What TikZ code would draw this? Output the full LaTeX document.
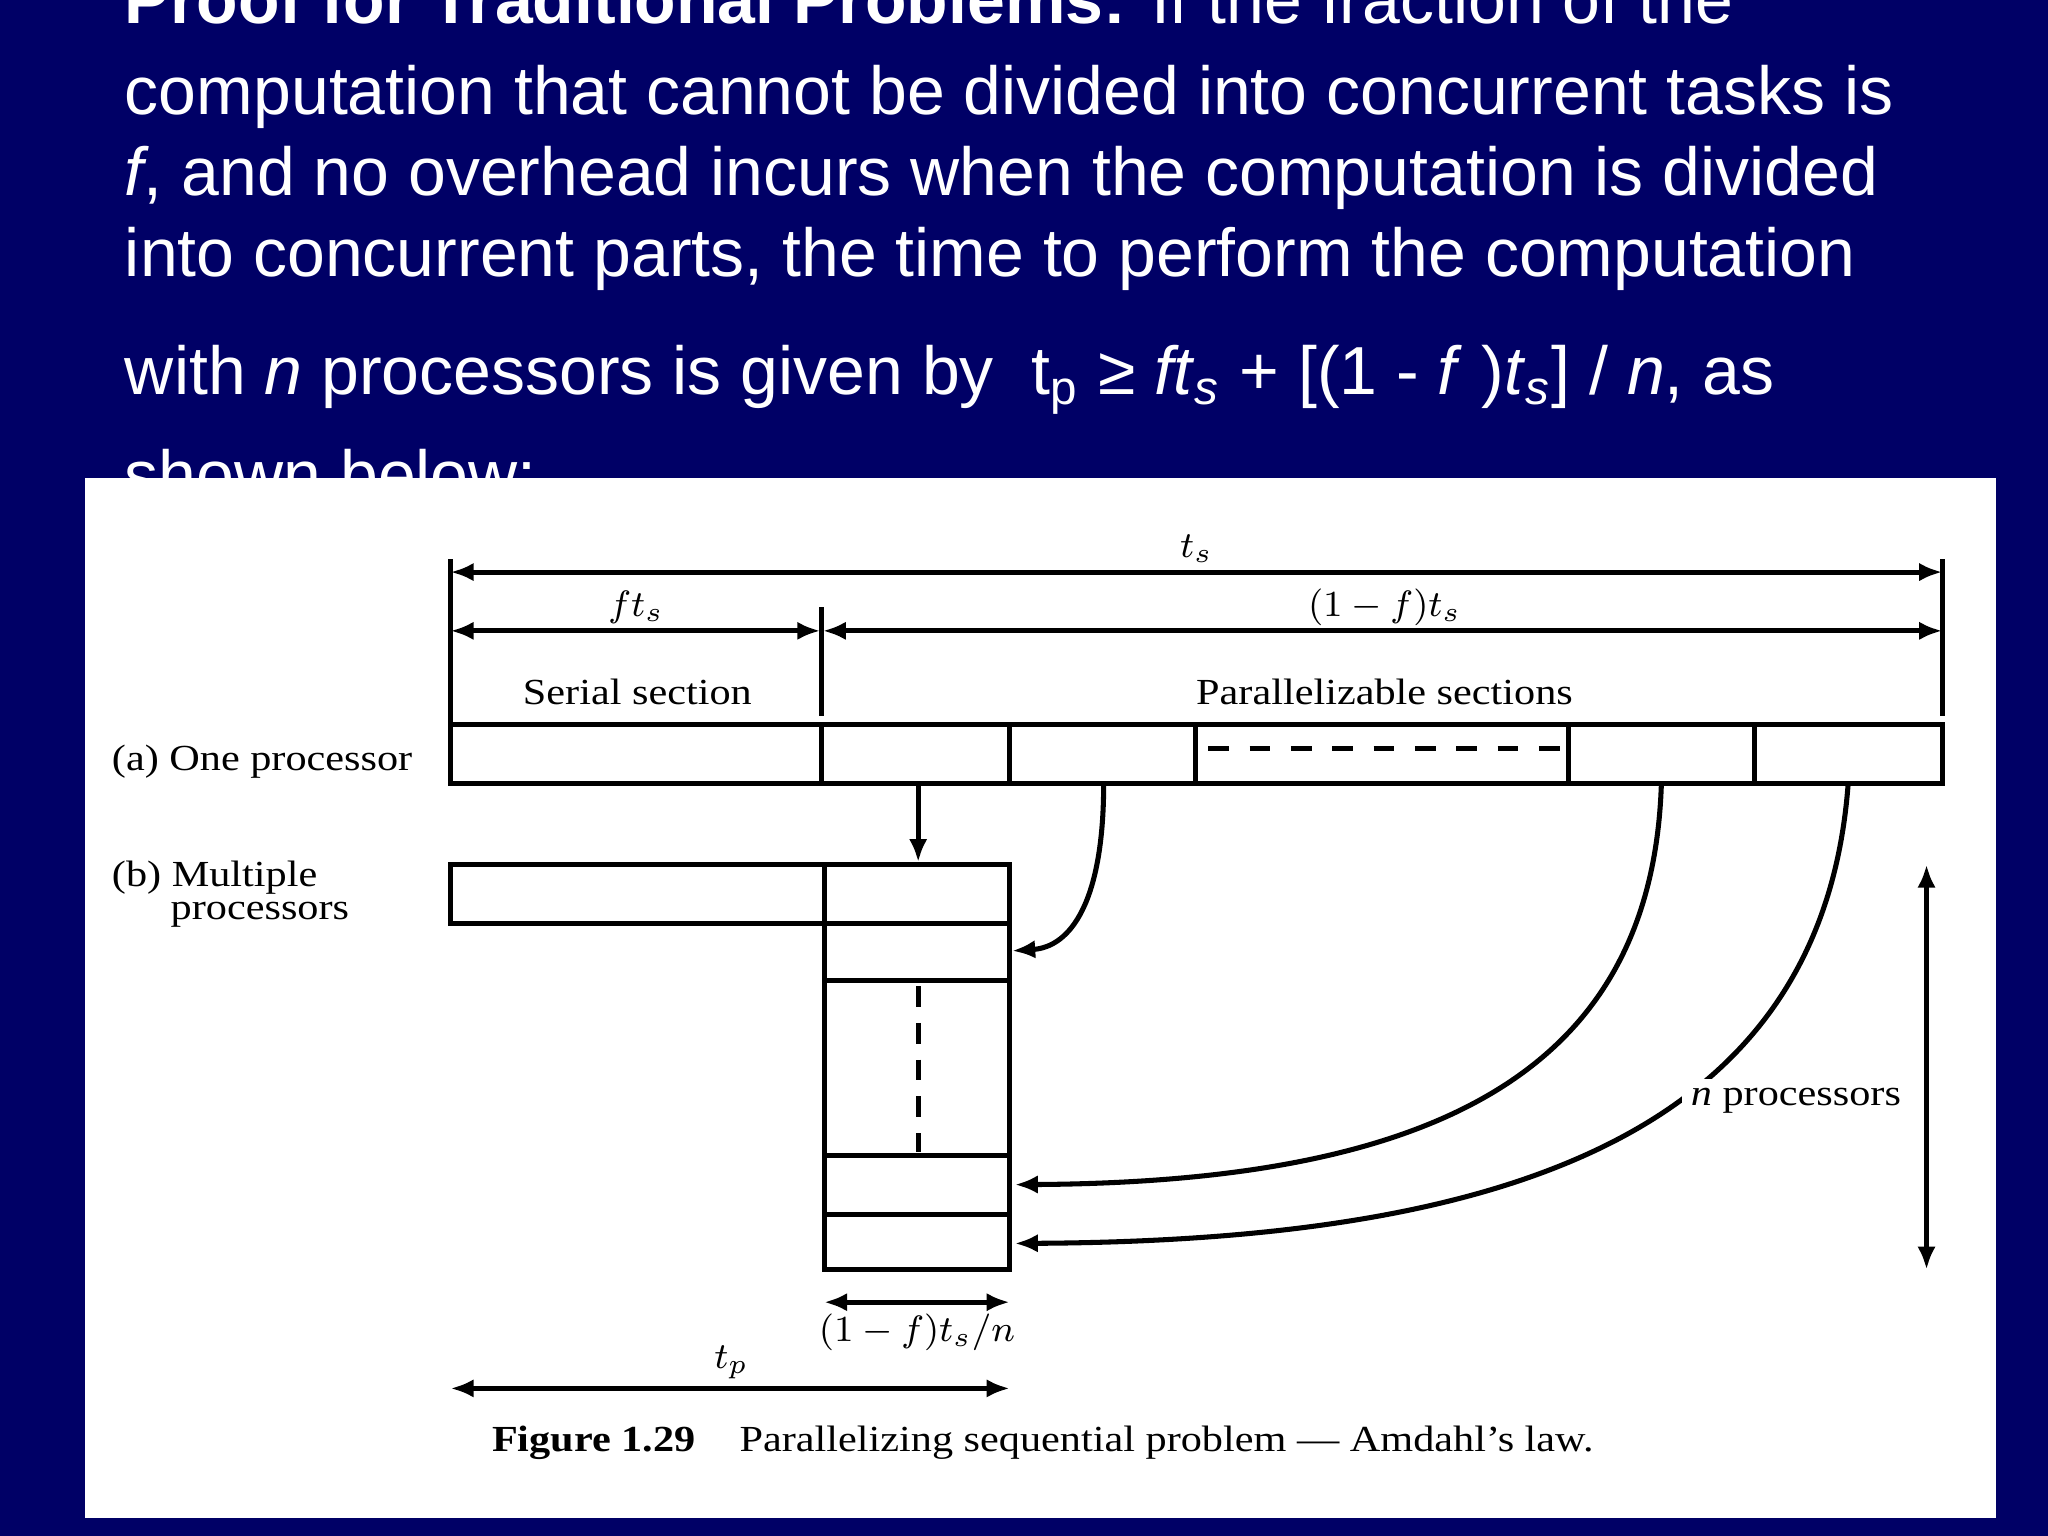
\documentclass[tikz,border=0pt]{standalone}
\usepackage{fontspec}
\setmainfont{Liberation Serif}[FakeStretch=1.15]
\newfontfamily\arial{Liberation Sans}
\usetikzlibrary{arrows.meta}
\definecolor{navy}{RGB}{0,0,102}
\begin{document}
\begin{tikzpicture}[x=0.01cm,y=-0.01cm,
  ln/.style={line width=1.1pt},
  dimarr/.style={line width=1.1pt,{Latex[length=5pt,width=4pt]}-{Latex[length=5pt,width=4pt]}},
  onearr/.style={line width=1.1pt,-{Latex[length=5pt,width=4pt]}},
  hd/.style={font=\arial\fontsize{14.8}{17}\selectfont,text=white,anchor=base west,inner sep=0},
  lab/.style={font=\fontsize{8}{9.5}\selectfont,inner sep=0}]
\fill[navy] (0,0) rectangle (1568,1176);
\useasboundingbox (0,0) rectangle (1568,1176);
\node[hd] (h1) at (95,18) {\textbf{Proof for Traditional Problems:} If the fraction of the};
\node[hd] (h2) at (95,88) {computation that cannot be divided into concurrent tasks is};
\node[hd] (h3) at (95,150) {\textit{f}, and no overhead incurs when the computation is divided};
\node[hd] (h4) at (95,212) {into concurrent parts, the time to perform the computation};
\node[hd] (h5) at (95,302) {with \textit{n} processors is given by\ \ t\textsubscript{p} ≥ \textit{ft}\textsubscript{\textit{s}} + [(1 - \textit{f} )\textit{t}\textsubscript{\textit{s}}] / \textit{n}, as};
\node[hd] (h6) at (95,382) {shown below:};
\fill[white] (65,366) rectangle (1528,1162);
\draw[ln] (345,428) -- (345,600);
\draw[ln] (1487,428) -- (1487,548);
\draw[ln] (629,465) -- (629,548);
\draw[dimarr] (345,438) -- (1487,438);
\node[lab] (ts) at (916,420) {$t_s$};
\draw[dimarr] (345,483) -- (628,483);
\node[lab] (fts) at (487,465) {$ft_s$};
\draw[dimarr] (630,483) -- (1487,483);
\node[lab] (oft) at (1060,465) {$(1-f)t_s$};
\node[lab] (ser) at (488,530) {Serial section};
\node[lab] (par) at (1060,530) {Parallelizable sections};
\node[lab,anchor=west] (a) at (85,583) {(a) One processor};
\draw[ln] (345,555) rectangle (1487,600);
\foreach \x in {629,773,915,1201,1343} \draw[ln] (\x,555) -- (\x,600);
\draw[ln,dash pattern=on 4.5pt off 4.5pt] (925,573) -- (1197,573);
\node[lab,anchor=west] (b1) at (85,672) {(b) Multiple};
\node[lab,anchor=west] (b2) at (130,700) {processors};
\draw[ln] (345,662) rectangle (631,707);
\draw[ln] (631,662) rectangle (773,972);
\foreach \y in {707,751,885,930} \draw[ln] (631,\y) -- (773,\y);
\draw[ln,dash pattern=on 4.5pt off 3.5pt] (703,755) -- (703,882);
\coordinate (s1) at (703,600); \coordinate (e1) at (703,660);
\draw[onearr] (s1) -- (e1);
\coordinate (s2) at (845,600); \coordinate (e2) at (775,728);
\draw[onearr] (s2) .. controls (845,690) and (820,725) .. (e2);
\coordinate (s3) at (1272,600); \coordinate (e3) at (777,907);
\draw[onearr] (s3) .. controls (1265,820) and (1100,905) .. (e3);
\coordinate (s4) at (1415,600); \coordinate (e4) at (777,952);
\draw[onearr] (s4) .. controls (1395,870) and (1150,950) .. (e4);
\draw[dimarr] (1475,662) -- (1475,972);
\node[lab,fill=white,inner sep=2pt] (np) at (1375,843) {\textit{n} processors};
\draw[dimarr] (631,997) -- (773,997);
\node[lab] (pn) at (702,1020) {$(1-f)t_s/n$};
\draw[dimarr] (345,1063) -- (773,1063);
\node[lab] (tp) at (560,1043) {$t_p$};
\node[lab,anchor=west] (cap) at (376,1105) {\textbf{Figure 1.29}\hspace{1.2em}Parallelizing sequential problem --- Amdahl's law.};
\end{tikzpicture}
\end{document}
